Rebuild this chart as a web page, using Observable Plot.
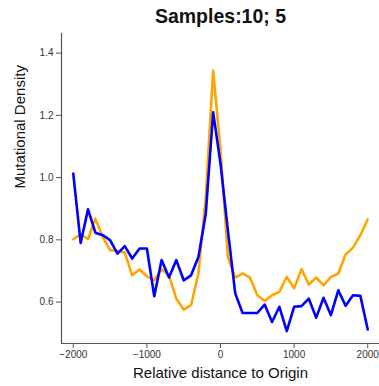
<!DOCTYPE html>
<html><head>
<meta charset="utf-8">
<script src="https://cdn.jsdelivr.net/npm/d3@7"></script>
<script src="https://cdn.jsdelivr.net/npm/@observablehq/plot@0.6"></script>
<style>
body{margin:0;background:#fff}
svg{font-family:"Liberation Sans",Arial,sans-serif}
</style>
</head><body><div id="chart"></div>
<script>
const title = "Samples:10; 5";
const xLabel = "Relative distance to Origin";
const yLabel = "Mutational Density";
const positions = [-2000,-1900,-1800,-1700,-1600,-1500,-1400,-1300,-1200,-1100,-1000,-900,-800,-700,-600,-500,-400,-300,-200,-100,0,100,200,300,400,500,600,700,800,900,1000,1100,1200,1300,1400,1500,1600,1700,1800,1900,2000];
const orangeSeries = [0.802,0.818,0.802,0.868,0.809,0.767,0.765,0.759,0.686,0.705,0.683,0.670,0.705,0.686,0.611,0.576,0.590,0.692,0.938,1.344,1.088,0.745,0.679,0.692,0.679,0.622,0.604,0.622,0.633,0.681,0.644,0.706,0.656,0.679,0.654,0.681,0.692,0.753,0.775,0.815,0.866];
const blueSeries = [1.013,0.790,0.898,0.823,0.815,0.799,0.756,0.780,0.740,0.772,0.772,0.619,0.735,0.679,0.735,0.670,0.686,0.745,0.884,1.210,1.045,0.831,0.628,0.565,0.565,0.565,0.592,0.536,0.585,0.507,0.585,0.587,0.611,0.550,0.614,0.558,0.638,0.588,0.622,0.620,0.512];
const xTicks = [-2000,-1000,0,1000,2000];
const yTicks = [0.6,0.8,1.0,1.2,1.4];

const orange = positions.map((x,i)=>({x, y: orangeSeries[i]}));
const blue = positions.map((x,i)=>({x, y: blueSeries[i]}));
const xDom = [-2160, 2160], yDom = [0.467, 1.463];

const chart = Plot.plot({
  width: 379, height: 386,
  marginLeft: 61, marginRight: 0, marginTop: 33, marginBottom: 43,
  x: {domain: xDom},
  y: {domain: yDom},
  marks: [
    Plot.ruleX([xDom[0]], {y1: yDom[0], y2: yDom[1], stroke: "#555", strokeWidth: 1.2}),
    Plot.ruleY([yDom[0]], {x1: xDom[0], x2: xDom[1], stroke: "#555", strokeWidth: 1.2}),
    Plot.axisY({ticks: yTicks, tickSize: 5, tickPadding: 3, tickFormat: d3.format(".1f"), fontSize: 10, color: "#333", label: null, stroke: "#555"}),
    Plot.axisX({ticks: xTicks, tickSize: 5, tickPadding: 2, tickFormat: d3.format("d"), fontSize: 10, color: "#333", label: null, stroke: "#555"}),
    Plot.text([yLabel], {frameAnchor: "left", dx: -41, rotate: -90, fontSize: 15, fill: "#111"}),
    Plot.text([xLabel], {frameAnchor: "bottom", dy: 34, fontSize: 15, fill: "#111"}),
    Plot.text([title], {frameAnchor: "top", dy: -24, fontSize: 19.5, fontWeight: "bold", fill: "#111"}),
    Plot.line(orange, {x: "x", y: "y", stroke: "#FFA500", strokeWidth: 2.6}),
    Plot.line(blue, {x: "x", y: "y", stroke: "#0000FF", strokeWidth: 2.6})
  ]
});
document.getElementById("chart").appendChild(chart);
</script>
</body></html>
